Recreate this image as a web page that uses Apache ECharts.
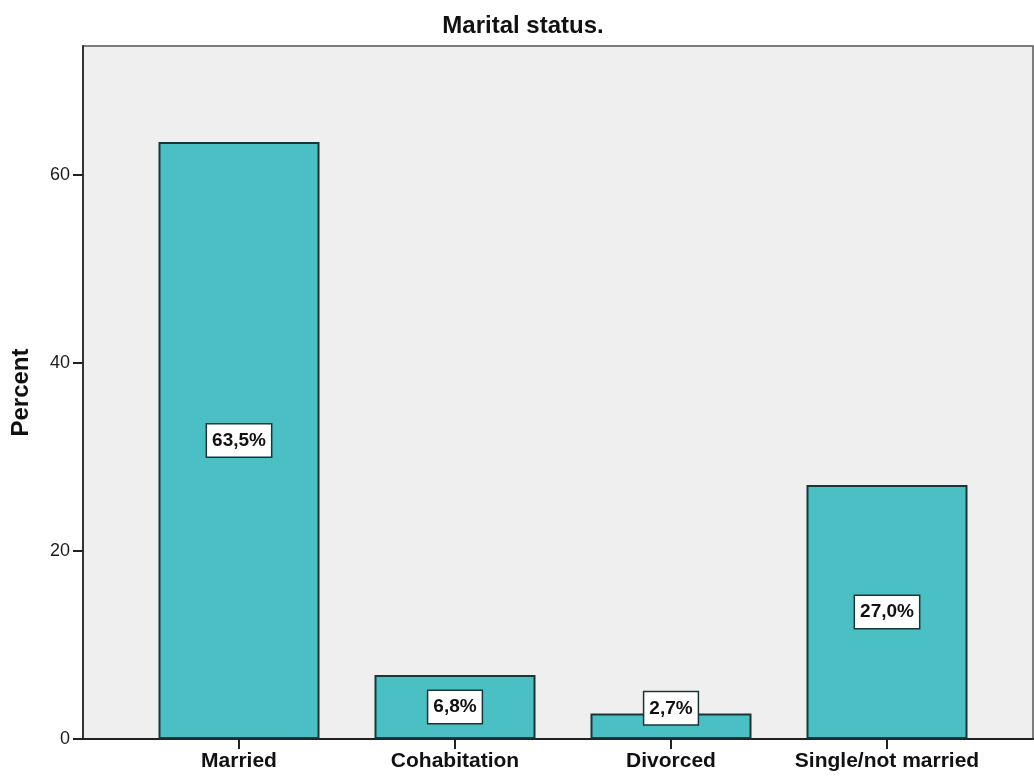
<!DOCTYPE html>
<html>
<head>
<meta charset="utf-8">
<title>Marital status.</title>
<script src="https://cdn.jsdelivr.net/npm/echarts@6/dist/echarts.min.js"></script>
<style>
  html, body { margin: 0; padding: 0; background: #ffffff; }
  #chart { width: 1034px; height: 779px; }
</style>
</head>
<body>
<div id="chart"></div>
<script>
// Marital status distribution (percent of respondents)
const categories = ['Married', 'Cohabitation', 'Divorced', 'Single/not married'];
const percents = [63.5, 6.8, 2.7, 27.0];
const valueLabels = ['63,5%', '6,8%', '2,7%', '27,0%'];
const yTicks = [0, 20, 40, 60];

const Y_MAX = 73.7;
const FONT = '"Liberation Sans", Arial, sans-serif';

const barData = percents.map((v, i) => {
  const item = { value: v };
  // very short bars get their label lifted so the box stays readable
  if (v < 4) item.label = { offset: [0, -18] };
  return item;
});

const chart = echarts.init(document.getElementById('chart'), null, { renderer: 'canvas' });

chart.setOption({
  animation: false,
  backgroundColor: '#ffffff',
  title: {
    text: 'Marital status.',
    left: 518,
    top: 9,
    textAlign: 'center',
    textStyle: { fontFamily: FONT, fontSize: 24, fontWeight: 'bold', color: '#111' }
  },
  grid: [
    // frame of the plotting area
    { left: 83, right: 1, top: 46, bottom: 40, show: true,
      backgroundColor: '#efefef', borderColor: '#555', borderWidth: 1.5 },
    // band area holding the bars
    { left: 131, right: 39, top: 46, bottom: 40 }
  ],
  xAxis: [
    { gridIndex: 0, type: 'value', min: 0, max: 1,
      axisLine: { show: true, onZero: false, lineStyle: { color: '#222', width: 2 } },
      axisTick: { show: false }, axisLabel: { show: false }, splitLine: { show: false } },
    { gridIndex: 1, type: 'category', data: categories,
      axisLine: { show: false },
      axisTick: { show: true, interval: 0, alignWithLabel: true, length: 10,
        lineStyle: { color: '#222', width: 2 } },
      axisLabel: { interval: 0, hideOverlap: false, fontFamily: FONT, fontSize: 21,
        fontWeight: 'bold', color: '#111', margin: 12 } }
  ],
  yAxis: [
    { gridIndex: 0, type: 'value', min: 0, max: Y_MAX, interval: 20,
      axisLine: { show: true, lineStyle: { color: '#333', width: 2 } },
      axisTick: { show: true, length: 10, customValues: yTicks, lineStyle: { color: '#222', width: 2 } },
      axisLabel: { fontFamily: FONT, fontSize: 18, color: '#1a1a1a', margin: 13, customValues: yTicks },
      splitLine: { show: false },
      name: 'Percent', nameLocation: 'middle', nameGap: 50, nameRotate: 90,
      nameTextStyle: { fontFamily: FONT, fontSize: 24, fontWeight: 'bold', color: '#111' } },
    { gridIndex: 1, type: 'value', min: 0, max: Y_MAX, show: false }
  ],
  series: [{
    type: 'bar',
    xAxisIndex: 1,
    yAxisIndex: 1,
    data: barData,
    barWidth: 161,
    itemStyle: { color: '#4ac0c5', borderColor: '#1b3536', borderWidth: 2 },
    label: {
      show: true,
      position: 'inside',
      formatter: p => valueLabels[p.dataIndex],
      fontFamily: FONT, fontSize: 19, fontWeight: 'bold', color: '#111',
      backgroundColor: '#ffffff', borderColor: '#1b3536', borderWidth: 1.5,
      padding: [7, 5, 6, 5]
    }
  }]
});
</script>
</body>
</html>
